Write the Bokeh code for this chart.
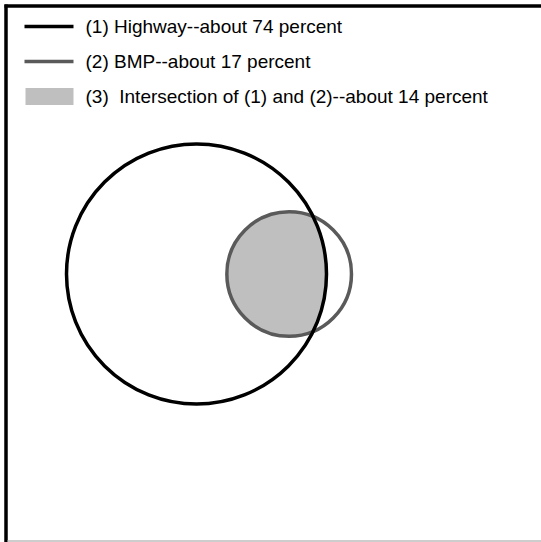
import math
from bokeh.plotting import figure
from bokeh.models import Range1d
from bokeh.core.properties import value
from bokeh.embed import file_html
from bokeh.resources import INLINE

# ---- data ----
labels = ["(1) Highway--about 74 percent",
          "(2) BMP--about 17 percent",
          "(3)\u00a0 Intersection of (1) and (2)--about 14 percent"]
highway_pct = 74
bmp_pct = 17
both_pct = 14

# ---- layout ----
W, H = 541, 542
cx, cy = 196.0, 273.5      # centre of the Highway circle (px)
R_big = 130.0               # radius of Highway circle
k = R_big / math.sqrt(highway_pct)
r_small = k * math.sqrt(bmp_pct)
target = math.pi * k * k * both_pct


def lens_area(d, R, r):
    if d >= R + r:
        return 0.0
    if d <= abs(R - r):
        return math.pi * min(R, r) ** 2
    a1 = r * r * math.acos((d * d + r * r - R * R) / (2 * d * r))
    a2 = R * R * math.acos((d * d + R * R - r * r) / (2 * d * R))
    a3 = 0.5 * math.sqrt((-d + r + R) * (d + r - R) * (d - r + R) * (d + r + R))
    return a1 + a2 - a3


lo, hi = abs(R_big - r_small) + 1e-6, R_big + r_small - 1e-6
for _ in range(100):
    mid = (lo + hi) / 2
    if lens_area(mid, R_big, r_small) > target:
        lo = mid
    else:
        hi = mid
d = (lo + hi) / 2
cx2 = cx + d

# lens polygon
a = (d * d + R_big * R_big - r_small * r_small) / (2 * d)
h = math.sqrt(max(R_big * R_big - a * a, 0))
t1 = math.atan2(h, a)
phi = math.atan2(h, a - d)
lx, ly = [], []
n = 120
for i in range(n + 1):
    t = -t1 + 2 * t1 * i / n
    lx.append(cx + R_big * math.cos(t))
    ly.append(cy + R_big * math.sin(t))
for i in range(n + 1):
    t = phi + (2 * math.pi - 2 * phi) * i / n
    lx.append(cx2 + r_small * math.cos(t))
    ly.append(cy + r_small * math.sin(t))

p = figure(width=W, height=H, output_backend="svg", toolbar_location=None,
           x_range=Range1d(0, W), y_range=Range1d(H, 0),
           min_border=0, background_fill_color="white",
           border_fill_color="white")
p.axis.visible = False
p.grid.visible = False
p.outline_line_color = None

# frame
p.segment(x0=[5.5], y0=[4], x1=[5.5], y1=[H], line_color="black", line_width=3.5)
p.segment(x0=[4], y0=[5.5], x1=[W], y1=[5.5], line_color="black", line_width=3.5)
p.segment(x0=[7], y0=[540.5], x1=[W], y1=[540.5], line_color="#bdbdbd", line_width=1.5)

# venn
p.patch(lx, ly, fill_color="#bfbfbf", line_color=None)
p.circle(x=[cx2], y=[cy], radius=r_small, fill_color=None, line_color="#5a5a5a", line_width=3.5)
p.circle(x=[cx], y=[cy], radius=R_big, fill_color=None, line_color="black", line_width=3.5)

# legend
leg_y = [26, 61, 96]
p.segment(x0=[24], y0=[leg_y[0]], x1=[73], y1=[leg_y[0]], line_color="black", line_width=3.5)
p.segment(x0=[24], y0=[leg_y[1]], x1=[73], y1=[leg_y[1]], line_color="#5a5a5a", line_width=3.5)
p.quad(left=[25], right=[73], top=[leg_y[2] - 8.5], bottom=[leg_y[2] + 8.5],
       fill_color="#bfbfbf", line_color=None)
p.text(x=[85, 85, 85], y=leg_y, text=labels, text_font=value("Liberation Sans"),
       text_font_size="19px", text_baseline="middle", text_align="left",
       text_color="#000000")

open("out.html", "w").write(file_html(p, INLINE))
